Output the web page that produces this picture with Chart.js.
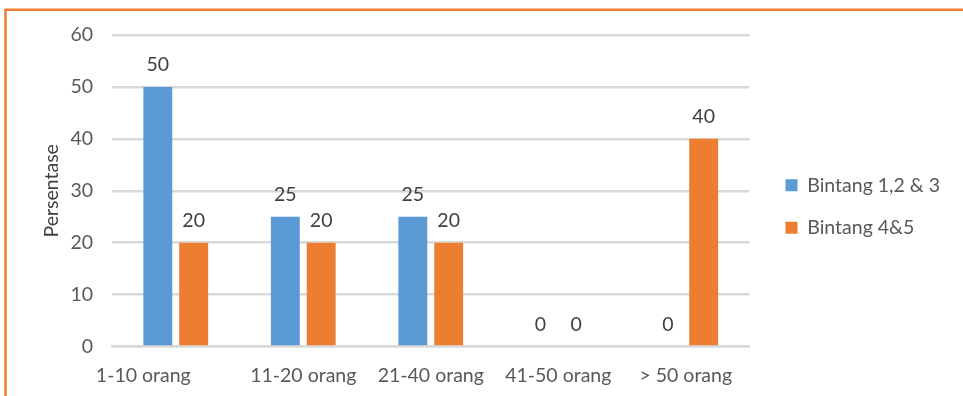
<!DOCTYPE html>
<html>
<head>
<meta charset="utf-8">
<script src="https://cdn.jsdelivr.net/npm/chart.js@4/dist/chart.umd.min.js"></script>
<style>
  html, body { margin: 0; padding: 0; background: #ffffff; }
  #wrap { width: 963px; height: 396px; position: relative; }
</style>
</head>
<body>
<div id="wrap"><canvas id="c" width="963" height="396"></canvas></div>
<script>
// Kategori jumlah karyawan
const categories = ['1-10 orang', '11-20 orang', '21-40 orang', '41-50 orang', '> 50 orang'];
// Persentase per kelas hotel
const bintang123 = [50, 25, 25, 0, 0];
const bintang45 = [20, 20, 20, 0, 40];
const yTicks = [0, 10, 20, 30, 40, 50, 60];
const seriesNames = ['Bintang 1,2 & 3', 'Bintang 4&5'];

const FONT = 'Lato';
const FSIZE = 19.5;
const BLUE = '#5B9BD5';
const ORANGE = '#ED7D31';

// Orange frame around the chart
const framePlugin = {
  id: 'frame',
  beforeDraw(chart) {
    const ctx = chart.ctx;
    ctx.save();
    ctx.strokeStyle = ORANGE;
    ctx.lineWidth = 2.5;
    ctx.strokeRect(5.5, 9.75, 1000, 500);
    ctx.restore();
  }
};

// Values printed above each bar
const valueLabels = {
  id: 'valueLabels',
  afterDatasetsDraw(chart) {
    const ctx = chart.ctx;
    ctx.save();
    ctx.font = FSIZE + 'px ' + FONT;
    ctx.fillStyle = '#404040';
    ctx.textAlign = 'center';
    ctx.textBaseline = 'middle';
    chart.data.datasets.forEach((ds, i) => {
      chart.getDatasetMeta(i).data.forEach((bar, j) => {
        ctx.fillText(String(ds.data[j]), bar.x, bar.y - 22);
      });
    });
    ctx.restore();
  }
};

// Nudge the legend away from the plot area
const legendShift = {
  id: 'legendShift',
  afterLayout(chart) {
    const lg = chart.legend;
    if (!lg) return;
    const dx = 13, dy = -9;
    lg.left += dx; lg.right += dx;
    lg.top += dy; lg.bottom += dy;
  }
};

new Chart(document.getElementById('c'), {
  type: 'bar',
  data: {
    labels: categories,
    datasets: [
      { label: seriesNames[0], data: bintang123, backgroundColor: BLUE },
      { label: seriesNames[1], data: bintang45, backgroundColor: ORANGE }
    ]
  },
  options: {
    responsive: false,
    animation: false,
    devicePixelRatio: 1,
    layout: { padding: { left: 40, right: 26, top: 35, bottom: 0 } },
    datasets: {
      bar: { categoryPercentage: 0.5625, barPercentage: 0.806 }
    },
    scales: {
      x: {
        grid: { display: false },
        border: { display: true, color: '#D9D9D9', width: 2.5 },
        ticks: {
          color: '#595959',
          font: { family: FONT, size: FSIZE },
          padding: 9,
          maxRotation: 0,
          autoSkip: false,
          callback: function (v, i) {
            const s = categories[i];
            return i === 0 ? s + '             ' : s;
          }
        }
      },
      y: {
        min: yTicks[0],
        max: yTicks[yTicks.length - 1],
        afterBuildTicks(scale) { scale.ticks = yTicks.map(v => ({ value: v })); },
        afterFit(scale) { scale.width = 72; },
        grid: { color: '#D9D9D9', lineWidth: 2.5, drawTicks: false },
        border: { display: false },
        ticks: {
          color: '#595959',
          font: { family: FONT, size: FSIZE },
          padding: 19
        },
        title: {
          display: true,
          text: 'Persentase',
          color: '#404040',
          font: { family: FONT, size: FSIZE },
          padding: { top: 0, bottom: 0 }
        }
      }
    },
    plugins: {
      legend: {
        position: 'right',
        align: 'center',
        labels: {
          boxWidth: 12,
          boxHeight: 12,
          padding: 23,
          color: '#595959',
          font: { family: FONT, size: FSIZE }
        }
      },
      tooltip: { enabled: false }
    }
  },
  plugins: [framePlugin, valueLabels, legendShift]
});
</script>
</body>
</html>
